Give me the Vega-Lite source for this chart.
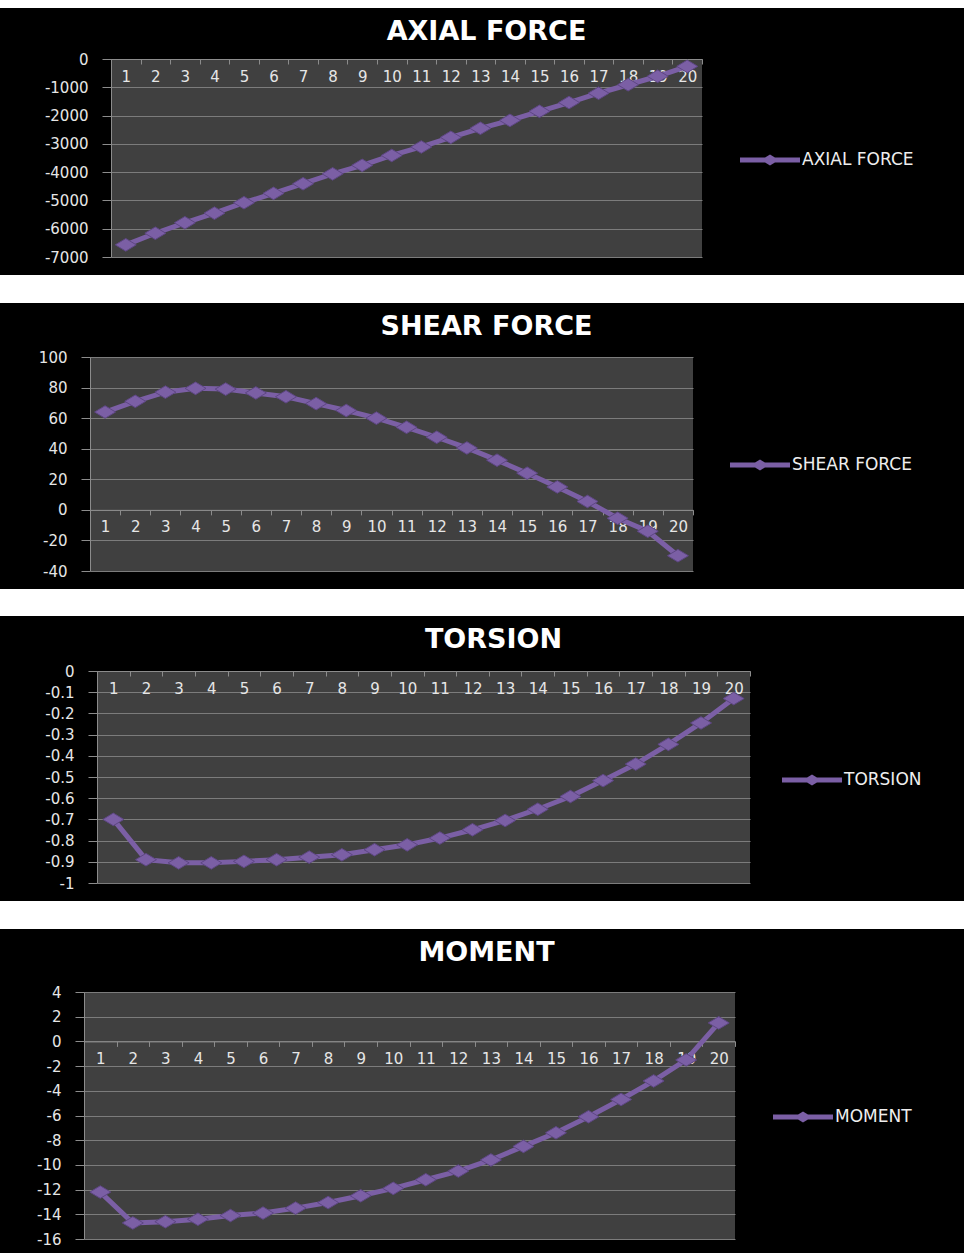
{
  "$schema": "https://vega.github.io/schema/vega-lite/v6.json",
  "background": "black",
  "padding": {"left": 0, "top": 0, "right": 0, "bottom": 7},
  "spacing": 10,
  "bounds": "full",
  "data": {
    "values": [
      {"n": 1, "axial": -6570, "shear": 64, "torsion": -0.7, "moment": -12.2},
      {"n": 2, "axial": -6160, "shear": 71, "torsion": -0.89, "moment": -14.7},
      {"n": 3, "axial": -5790, "shear": 77, "torsion": -0.905, "moment": -14.6},
      {"n": 4, "axial": -5450, "shear": 79.5, "torsion": -0.905, "moment": -14.4},
      {"n": 5, "axial": -5080, "shear": 79, "torsion": -0.898, "moment": -14.1},
      {"n": 6, "axial": -4750, "shear": 76.5, "torsion": -0.89, "moment": -13.9},
      {"n": 7, "axial": -4410, "shear": 74, "torsion": -0.878, "moment": -13.5},
      {"n": 8, "axial": -4060, "shear": 69.5, "torsion": -0.867, "moment": -13.05},
      {"n": 9, "axial": -3760, "shear": 65, "torsion": -0.843, "moment": -12.5},
      {"n": 10, "axial": -3410, "shear": 60, "torsion": -0.82, "moment": -11.9},
      {"n": 11, "axial": -3110, "shear": 54, "torsion": -0.788, "moment": -11.2},
      {"n": 12, "axial": -2770, "shear": 47.5, "torsion": -0.749, "moment": -10.5},
      {"n": 13, "axial": -2450, "shear": 40.5, "torsion": -0.705, "moment": -9.6},
      {"n": 14, "axial": -2170, "shear": 32.5, "torsion": -0.652, "moment": -8.5},
      {"n": 15, "axial": -1850, "shear": 24, "torsion": -0.592, "moment": -7.4},
      {"n": 16, "axial": -1540, "shear": 15, "torsion": -0.517, "moment": -6.1},
      {"n": 17, "axial": -1210, "shear": 5.5, "torsion": -0.439, "moment": -4.7},
      {"n": 18, "axial": -910, "shear": -5.5, "torsion": -0.346, "moment": -3.2},
      {"n": 19, "axial": -610, "shear": -14, "torsion": -0.245, "moment": -1.5},
      {"n": 20, "axial": -260, "shear": -30, "torsion": -0.13, "moment": 1.5}
    ]
  },
  "resolve": {"scale": {"color": "independent"}, "legend": {"color": "independent"}},
  "vconcat": [
    {
      "width": 964, "height": 8,
      "view": {"fill": "white", "stroke": null},
      "data": {"values": []},
      "mark": "rule",
      "encoding": {}
    },
    {
      "spacing": 0,
      "hconcat": [
        {
          "width": 44, "height": 1,
          "view": {"fill": "black", "stroke": null},
          "data": {"values": []},
          "mark": "rule",
          "encoding": {}
        },
        {
          "width": 591, "height": 198,
          "view": {"fill": "#404040", "stroke": null},
          "title": {"text": "AXIAL FORCE", "offset": 6, "dx": 80},
          "encoding": {
            "x": {"field": "n", "type": "quantitative", "title": null,
              "scale": {"domain": [0.5, 20.5], "nice": false, "zero": false},
              "axis": {"values": [0.5, 1.5, 2.5, 3.5, 4.5, 5.5, 6.5, 7.5, 8.5, 9.5, 10.5, 11.5, 12.5, 13.5, 14.5, 15.5, 16.5, 17.5, 18.5, 19.5, 20.5],
                "labelExpr": "datum.value < 20 ? '' + (datum.value + 0.5) : ''",
                "labelOffset": 14.78, "offset": -198}},
            "y": {"field": "axial", "type": "quantitative", "title": null,
              "scale": {"domain": [-7000, 0], "nice": false, "zero": false},
              "axis": {"values": [-7000, -6000, -5000, -4000, -3000, -2000, -1000, 0], "format": "d"}},
            "color": {"datum": "AXIAL FORCE", "type": "nominal", "scale": {"range": ["#7b5fa5"]},
              "legend": {"orient": "none", "legendX": 740, "legendY": 71}}
          },
          "layer": [
            {"mark": {"type": "line", "strokeWidth": 5}},
            {"mark": {"type": "point", "shape": "M-1,0L0,-0.6L1,0L0,0.6Z", "filled": true, "size": 440, "opacity": 1, "stroke": "#5e4784", "strokeWidth": 1}}
          ]
        }
      ]
    },
    {
      "width": 964, "height": 28,
      "view": {"fill": "white", "stroke": null},
      "data": {"values": []},
      "mark": "rule",
      "encoding": {}
    },
    {
      "spacing": 0,
      "hconcat": [
        {
          "width": 38, "height": 1,
          "view": {"fill": "black", "stroke": null},
          "data": {"values": []},
          "mark": "rule",
          "encoding": {}
        },
        {
          "width": 603, "height": 214,
          "view": {"fill": "#404040", "stroke": null},
          "title": {"text": "SHEAR FORCE", "offset": 9, "dx": 95},
          "encoding": {
            "x": {"field": "n", "type": "quantitative", "title": null,
              "scale": {"domain": [0.5, 20.5], "nice": false, "zero": false},
              "axis": {"values": [0.5, 1.5, 2.5, 3.5, 4.5, 5.5, 6.5, 7.5, 8.5, 9.5, 10.5, 11.5, 12.5, 13.5, 14.5, 15.5, 16.5, 17.5, 18.5, 19.5, 20.5],
                "labelExpr": "datum.value < 20 ? '' + (datum.value + 0.5) : ''",
                "labelOffset": 15.08, "offset": -61.14}},
            "y": {"field": "shear", "type": "quantitative", "title": null,
              "scale": {"domain": [-40, 100], "nice": false, "zero": false},
              "axis": {"values": [-40, -20, 0, 20, 40, 60, 80, 100], "format": "d"}},
            "color": {"datum": "SHEAR FORCE", "type": "nominal", "scale": {"range": ["#7b5fa5"]},
              "legend": {"orient": "none", "legendX": 730, "legendY": 78}}
          },
          "layer": [
            {"mark": {"type": "line", "strokeWidth": 5}},
            {"mark": {"type": "point", "shape": "M-1,0L0,-0.6L1,0L0,0.6Z", "filled": true, "size": 440, "opacity": 1, "stroke": "#5e4784", "strokeWidth": 1}}
          ]
        }
      ]
    },
    {
      "width": 964, "height": 27,
      "view": {"fill": "white", "stroke": null},
      "data": {"values": []},
      "mark": "rule",
      "encoding": {}
    },
    {
      "spacing": 0,
      "hconcat": [
        {
          "width": 44, "height": 1,
          "view": {"fill": "black", "stroke": null},
          "data": {"values": []},
          "mark": "rule",
          "encoding": {}
        },
        {
          "width": 653, "height": 212,
          "view": {"fill": "#404040", "stroke": null},
          "title": {"text": "TORSION", "offset": 10, "dx": 70},
          "encoding": {
            "x": {"field": "n", "type": "quantitative", "title": null,
              "scale": {"domain": [0.5, 20.5], "nice": false, "zero": false},
              "axis": {"values": [0.5, 1.5, 2.5, 3.5, 4.5, 5.5, 6.5, 7.5, 8.5, 9.5, 10.5, 11.5, 12.5, 13.5, 14.5, 15.5, 16.5, 17.5, 18.5, 19.5, 20.5],
                "labelExpr": "datum.value < 20 ? '' + (datum.value + 0.5) : ''",
                "labelOffset": 16.33, "offset": -212}},
            "y": {"field": "torsion", "type": "quantitative", "title": null,
              "scale": {"domain": [-1, 0], "nice": false, "zero": false},
              "axis": {"values": [-1, -0.9, -0.8, -0.7, -0.6, -0.5, -0.4, -0.3, -0.2, -0.1, 0], "format": ".1~f"}},
            "color": {"datum": "TORSION", "type": "nominal", "scale": {"range": ["#7b5fa5"]},
              "legend": {"orient": "none", "legendX": 782, "legendY": 79}}
          },
          "layer": [
            {"mark": {"type": "line", "strokeWidth": 5}},
            {"mark": {"type": "point", "shape": "M-1,0L0,-0.6L1,0L0,0.6Z", "filled": true, "size": 440, "opacity": 1, "stroke": "#5e4784", "strokeWidth": 1}}
          ]
        }
      ]
    },
    {
      "width": 964, "height": 28,
      "view": {"fill": "white", "stroke": null},
      "data": {"values": []},
      "mark": "rule",
      "encoding": {}
    },
    {
      "spacing": 0,
      "hconcat": [
        {
          "width": 36, "height": 1,
          "view": {"fill": "black", "stroke": null},
          "data": {"values": []},
          "mark": "rule",
          "encoding": {}
        },
        {
          "width": 651, "height": 247,
          "view": {"fill": "#404040", "stroke": null},
          "title": {"text": "MOMENT", "offset": 18, "dx": 77},
          "encoding": {
            "x": {"field": "n", "type": "quantitative", "title": null,
              "scale": {"domain": [0.5, 20.5], "nice": false, "zero": false},
              "axis": {"values": [0.5, 1.5, 2.5, 3.5, 4.5, 5.5, 6.5, 7.5, 8.5, 9.5, 10.5, 11.5, 12.5, 13.5, 14.5, 15.5, 16.5, 17.5, 18.5, 19.5, 20.5],
                "labelExpr": "datum.value < 20 ? '' + (datum.value + 0.5) : ''",
                "labelOffset": 16.28, "offset": -197.6}},
            "y": {"field": "moment", "type": "quantitative", "title": null,
              "scale": {"domain": [-16, 4], "nice": false, "zero": false},
              "axis": {"values": [-16, -14, -12, -10, -8, -6, -4, -2, 0, 2, 4], "format": "d"}},
            "color": {"datum": "MOMENT", "type": "nominal", "scale": {"range": ["#7b5fa5"]},
              "legend": {"orient": "none", "legendX": 773, "legendY": 95}}
          },
          "layer": [
            {"mark": {"type": "line", "strokeWidth": 5}},
            {"mark": {"type": "point", "shape": "M-1,0L0,-0.6L1,0L0,0.6Z", "filled": true, "size": 440, "opacity": 1, "stroke": "#5e4784", "strokeWidth": 1}}
          ]
        }
      ]
    }
  ],
  "config": {
    "locale": {"number": {"decimal": ".", "thousands": ",", "grouping": [3], "currency": ["$", ""], "minus": "-"}},
    "view": {"stroke": null},
    "title": {"color": "white", "font": "DejaVu Sans", "fontWeight": "bold", "fontSize": 27, "anchor": "middle", "frame": "group"},
    "axis": {"labelFont": "DejaVu Sans", "labelFontSize": 15, "labelColor": "#e6e6e6", "domainColor": "#8c8c8c", "tickColor": "#8c8c8c", "gridColor": "#7c7c7c", "gridWidth": 1},
    "axisX": {"grid": false, "tickSize": 5, "labelPadding": 5, "labelOverlap": false, "labelFlush": false, "labelBound": false},
    "axisY": {"grid": true, "tickSize": 9, "labelPadding": 14, "labelOverlap": false},
    "legend": {
      "title": null, "padding": 0, "labelOffset": 2,
      "labelFont": "DejaVu Sans", "labelFontSize": 17, "labelColor": "#eeeeee",
      "symbolType": "M-1,-0.083L-0.164,-0.083L0,-0.183L0.164,-0.083L1,-0.083L1,0.083L0.164,0.083L0,0.183L-0.164,0.083L-1,0.083Z",
      "symbolSize": 3600, "symbolStrokeWidth": 0, "symbolFillColor": "#7b5fa5", "symbolOpacity": 1
    }
  }
}
